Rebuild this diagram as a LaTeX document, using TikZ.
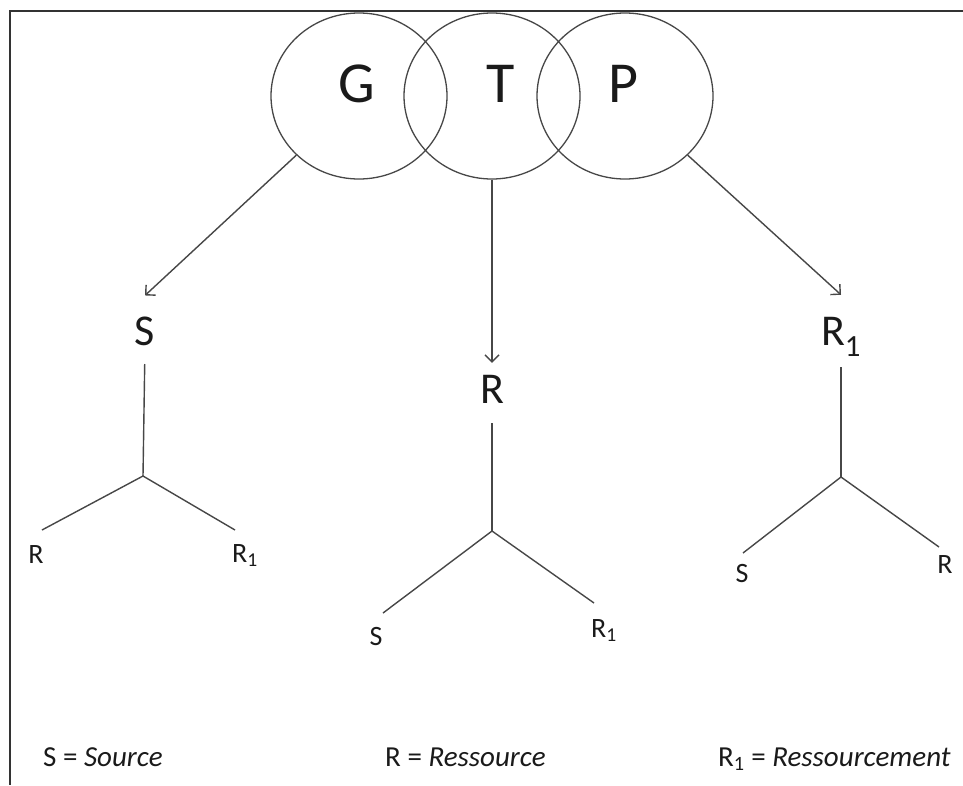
\documentclass[tikz,border=0pt]{standalone}
\usepackage{fontspec}
\setmainfont{Carlito}
\usetikzlibrary{shapes.geometric,arrows.meta}
\definecolor{ink}{HTML}{1A1A1A}
\definecolor{linegray}{HTML}{474747}
\definecolor{framegray}{HTML}{333333}
\begin{document}
\begin{tikzpicture}[x=1pt,y=-1pt,
  ring/.style={ellipse, draw=linegray, line width=1.3pt, minimum width=176pt, minimum height=166pt, inner sep=0pt},
  bigletter/.style={anchor=base, text=ink, font=\fontsize{58}{60}\selectfont, inner sep=0pt},
  headlabel/.style={anchor=base, text=ink, font=\fontsize{44}{46}\selectfont, inner sep=0pt},
  leaf/.style={anchor=base, text=ink, font=\fontsize{28}{30}\selectfont, inner sep=0pt},
  legend/.style={anchor=base west, text=ink, font=\fontsize{29}{31}\selectfont, inner sep=0pt},
  arr/.style={draw=linegray, line width=1.4pt, -{Straight Barb[length=7pt,width=14pt]}},
  branch/.style={draw=linegray, line width=1.4pt},
  frame/.style={draw=framegray, line width=2pt}
]
\useasboundingbox (0,0) rectangle (963,785);

% open frame: top and left edges
\draw[frame] (963,11) -- (10,11) -- (10,785);

% the three overlapping rings
\node[ring] (G) at (359,96) {};
\node[ring] (T) at (492,96) {};
\node[ring] (P) at (625,96) {};
\node[bigletter] (Gt) at (357,102) {G};
\node[bigletter] (Tt) at (501,102) {T};
\node[bigletter] (Pt) at (623,102) {P};

% heads of the three trees
\node[headlabel, outer ysep=21pt] (S0) at (145,345) {S};
\node[headlabel, outer ysep=12pt] (R0) at (492,403) {R};
\node[headlabel, outer ysep=22pt] (Q0) at (841,345) {R\textsubscript{1}};

% arrows from the rings
\draw[arr] (G.south west) -- (S0.north);
\draw[arr] (T.south) -- (R0.north);
\draw[arr] (P.south east) -- (Q0.north);

% left tree
\coordinate (jS) at (143,476);
\coordinate (jSa) at (42,530);
\coordinate (jSb) at (235,530);
\draw[branch, shorten <=19pt] (S0.base) -- (jS);
\draw[branch] (jSa) -- (jS) -- (jSb);
\node[leaf] (SR) at (36,563) {R};
\node[leaf] (SQ) at (245,562) {R\textsubscript{1}};

% middle tree
\coordinate (jR) at (492,531);
\coordinate (jRa) at (383,613);
\coordinate (jRb) at (594,603);
\draw[branch, shorten <=20pt] (R0.base) -- (jR);
\draw[branch] (jRa) -- (jR) -- (jRb);
\node[leaf] (RS) at (376,645) {S};
\node[leaf] (RQ) at (604,637) {R\textsubscript{1}};

% right tree
\coordinate (jQ) at (841,477);
\coordinate (jQa) at (743,553);
\coordinate (jQb) at (939,547);
\draw[branch, shorten <=22pt] (Q0.base) -- (jQ);
\draw[branch] (jQa) -- (jQ) -- (jQb);
\node[leaf] (QS) at (742,582) {S};
\node[leaf] (QR) at (945,573) {R};

% legend
\node[legend] (L1) at (43,766) {S = \textit{Source}};
\node[legend] (L2) at (385,766) {R = \textit{Ressource}};
\node[legend] (L3) at (718,766) {R\textsubscript{1} = \textit{Ressourcement}};
\end{tikzpicture}
\end{document}
